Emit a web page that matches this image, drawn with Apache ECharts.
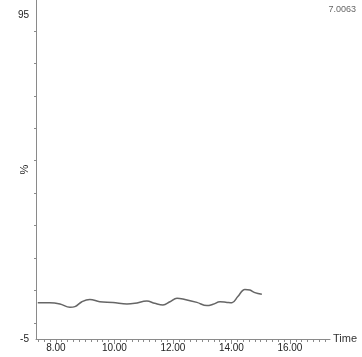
<!DOCTYPE html>
<html><head><meta charset="utf-8">
<script src="https://cdn.jsdelivr.net/npm/echarts@6/dist/echarts.min.js"></script>
<style>html,body{margin:0;padding:0;background:#fff}#c{width:362px;height:357px}</style>
</head><body><div id="c"></div>
<script>
var times = [7.38,7.79,8.14,8.48,8.65,8.89,9.16,9.50,9.95,10.43,10.70,11.11,11.38,11.66,11.90,12.14,12.41,12.82,13.16,13.37,13.61,13.85,14.02,14.22,14.46,14.63,14.80,15.04];
var percent = [6.2,6.2,5.8,4.8,5.0,6.5,7.2,6.5,6.3,5.8,6.0,6.7,6.0,5.5,6.5,7.6,7.2,6.3,5.3,5.7,6.5,6.3,6.2,8.1,10.3,10.1,9.3,8.8];
var xLabels = [8,10,12,14,16];
var yLabels = [-5,95];
var yTicks = [0,10,20,30,40,50,60,70,80,90];
var peakText = '7.0063';

var minorX = [];
for (var v = 74; v <= 172; v += 2) minorX.push(v / 10);

var data = times.map(function(t,i){return [t, percent[i]];});
var chart = echarts.init(document.getElementById('c'));
var axisColor = '#8a8a8a';
var font = 'Liberation Sans, Arial, sans-serif';
chart.setOption({
  animation: false,
  title: {text: peakText, right: 1, top: 0, textStyle: {fontSize: 9, fontWeight: 'normal', color: '#666', fontFamily: font}},
  grid: {left: 36, right: 32, top: 0, bottom: 18},
  xAxis: [{
    type: 'value', min: 7.32, max: 17.37,
    name: 'Time', nameLocation: 'end', nameGap: 3,
    nameTextStyle: {fontSize: 11, color: '#333', fontFamily: font},
    axisLine: {onZero: false, lineStyle: {color: axisColor, width: 1}},
    axisTick: {show: true, customValues: minorX, length: 3, lineStyle: {color: axisColor}},
    axisLabel: {customValues: xLabels, formatter: function(v){return v.toFixed(2);}, fontSize: 10, color: '#222', fontFamily: font, margin: 4},
    splitLine: {show: false}
  },{
    type: 'value', min: 7.32, max: 17.37, position: 'bottom',
    axisLine: {show: false, onZero: false},
    axisTick: {show: true, customValues: xLabels, length: 5, lineStyle: {color: axisColor}},
    axisLabel: {show: false}, splitLine: {show: false}
  }],
  yAxis: {
    type: 'value', min: -5, max: 99.6,
    name: '%', nameLocation: 'middle', nameGap: 6, nameRotate: 90, nameMoveOverlap: false,
    nameTextStyle: {fontSize: 11, color: '#222', fontFamily: font},
    axisLine: {show: true, onZero: false, lineStyle: {color: axisColor, width: 1}},
    axisTick: {show: true, customValues: yTicks, length: 2, lineStyle: {color: axisColor}},
    axisLabel: {customValues: yLabels, fontSize: 10, color: '#222', fontFamily: font, margin: 7},
    splitLine: {show: false}
  },
  series: [{
    type: 'line', data: data, smooth: 0.4, symbol: 'none',
    lineStyle: {color: '#666', width: 1.5}
  }]
});
</script></body></html>
